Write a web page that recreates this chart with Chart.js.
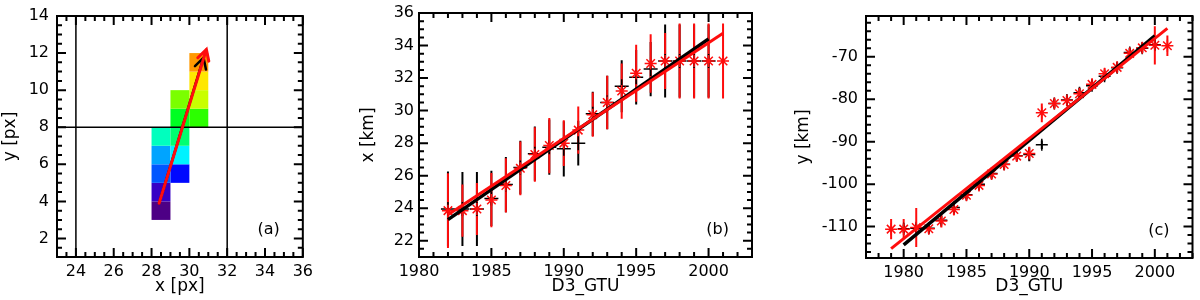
<!DOCTYPE html>
<html>
<head>
<meta charset="utf-8">
<script src="https://cdn.jsdelivr.net/npm/chart.js@4.4.1/dist/chart.umd.min.js"></script>
<style>
    body { margin: 0; background: #fff; }
    .panel { position: absolute; top: 0; }
</style>
</head>
<body>
<div class="panel" style="left:0px"><canvas id="chartA" width="320" height="300"></canvas></div>
<div class="panel" style="left:340px"><canvas id="chartB" width="430" height="300"></canvas></div>
<div class="panel" style="left:790px"><canvas id="chartC" width="410" height="300"></canvas></div>
<script>
// ---- panel (a): pixels hit by the track, in time order ----
const cellX = [28, 28, 29, 28, 28, 29, 28, 29, 29, 30, 29, 30, 30, 30];
const cellY = [3, 4, 5, 5, 6, 6, 7, 7, 8, 8, 9, 9, 10, 11];
const cellRank = [0, 1, 2, 3, 4, 5, 6, 7, 8, 9, 10, 11, 12, 13];
const redArrowX = [28.4, 30.9];
const redArrowY = [3.9, 12.2];
const blackArrowX = [28.4, 30.75];
const blackArrowY = [3.9, 11.75];
const aLinesX = [24, 32];
const aLinesY = [8];
const aXTicks = [24, 26, 28, 30, 32, 34, 36];
const aYTicks = [2, 4, 6, 8, 10, 12, 14];

// ---- panel (b): x [km] vs GTU ----
const bYearsRed = [1982, 1983, 1984, 1985, 1986, 1987, 1988, 1989, 1990, 1991, 1992, 1993, 1994, 1995, 1996, 1997, 1998, 1999, 2000, 2001];
const bRedX = [23.85, 23.85, 23.95, 24.5, 25.4, 26.45, 27.3, 27.85, 28.0, 28.8, 29.75, 30.5, 31.2, 32.3, 32.9, 33.05, 33.05, 33.05, 33.05, 33.05];
const bRedErr = [2.3, 1.6, 1.6, 1.67, 1.67, 1.65, 1.67, 1.7, 1.4, 1.45, 1.36, 1.64, 1.7, 1.75, 1.8, 1.72, 2.3, 2.3, 2.3, 2.3];
const bYearsBlack = [1982, 1983, 1984, 1985, 1986, 1987, 1988, 1989, 1990, 1991, 1992, 1993, 1994, 1995, 1996, 1997, 1998, 1999, 2000];
const bBlackX = [23.95, 23.95, 23.95, 24.6, 25.45, 26.5, 27.35, 27.75, 27.65, 28.0, 29.8, 30.5, 31.5, 32.05, 32.55, 33.05, 33.05, 33.05, 33.05];
const bBlackErr = [2.3, 2.27, 2.27, 1.7, 1.7, 1.65, 1.67, 1.7, 1.7, 1.38, 1.36, 1.64, 1.6, 1.67, 1.67, 2.25, 2.25, 2.25, 2.25];
const bFitBlackX = [1982, 2000];
const bFitBlackY = [23.3, 34.4];
const bFitRedX = [1982, 2001];
const bFitRedY = [23.6, 34.75];
const bXTicks = [1980, 1985, 1990, 1995, 2000];
const bYTicks = [22, 24, 26, 28, 30, 32, 34, 36];

// ---- panel (c): y [km] vs GTU ----
const cYearsRed = [1979, 1980, 1981, 1982, 1983, 1984, 1985, 1986, 1987, 1988, 1989, 1990, 1991, 1992, 1993, 1994, 1995, 1996, 1997, 1998, 1999, 2000, 2001];
const cRedY = [-110.6, -110.6, -110.2, -110.5, -108.7, -106.0, -102.6, -100.3, -97.6, -95.4, -93.4, -92.8, -83.2, -81.0, -80.3, -78.7, -76.5, -74.0, -72.5, -69.2, -67.9, -67.3, -67.4];
const cRedErr = [2.4, 2.4, 4.6, 1.2, 1.5, 1.3, 1.2, 1.2, 1.2, 1.2, 1.2, 1.6, 2.2, 1.2, 1.3, 1.3, 1.3, 1.3, 1.3, 1.3, 1.3, 4.5, 2.4];
const cYearsBlack = [1980, 1981, 1982, 1983, 1984, 1985, 1986, 1987, 1988, 1989, 1990, 1991, 1992, 1993, 1994, 1995, 1996, 1997, 1998, 1999, 2000];
const cBlackY = [-110.5, -110.4, -110.4, -108.5, -105.5, -102.5, -100.0, -97.5, -95.3, -93.3, -93.0, -90.7, -81.0, -80.2, -78.5, -76.8, -74.6, -72.6, -69.0, -68.0, -67.2];
const cBlackErr = [1.0, 1.0, 1.0, 1.0, 1.0, 1.0, 1.0, 1.0, 1.0, 1.0, 1.6, 1.0, 1.0, 1.0, 1.2, 1.0, 1.0, 1.0, 1.0, 1.0, 1.0];
const cFitBlackX = [1980, 2000];
const cFitBlackY = [-114.3, -65.1];
const cFitRedX = [1979, 2001];
const cFitRedY = [-115.2, -63.3];
const cXTicks = [1980, 1985, 1990, 1995, 2000];
const cYTicks = [-110, -100, -90, -80, -70];

const FONT = 'DejaVu Sans';
const RED = '#ff0d0d';
Chart.defaults.font.family = FONT;
Chart.defaults.color = '#000';

const pts = (xs, ys) => xs.map((v, i) => ({ x: v, y: ys[i] }));

// rainbow colour table (purple -> orange), t in [0, 1]
function rainbow(t) {
    const h = 275 - 239 * t;
    const v = Math.min(1, 0.52 + 3.3 * t);
    const f = n => {
        const k = (n + h / 60) % 6;
        return Math.round(255 * (v - v * Math.max(0, Math.min(k, 4 - k, 1))));
    };
    return `rgb(${f(5)}, ${f(3)}, ${f(1)})`;
}

function axis(min, max, ticks, title, size, pad, isX, titlePad) {
    return {
        type: 'linear',
        min: min,
        max: max,
        afterBuildTicks: s => { s.ticks = ticks.map(v => ({ value: v })); },
        afterFit: s => { if (isX) s.height = size; else s.width = size; },
        grid: { display: false, drawTicks: false },
        border: { display: false },
        ticks: {
            color: '#000',
            autoSkip: false,
            maxRotation: 0,
            padding: pad,
            font: { size: 16, lineHeight: 1 },
            callback: v => String(v)
        },
        title: {
            display: true,
            text: title,
            color: '#000',
            font: { size: 17 },
            padding: isX ? { top: 0, bottom: titlePad } : { top: titlePad, bottom: 0 }
        }
    };
}

// frame with inward major/minor ticks on all four sides, plus the panel tag
const frameTicks = {
    id: 'frameTicks',
    afterDatasetsDraw(chart, args, opts) {
        const { ctx, chartArea: { left, right, top, bottom }, scales: { x, y } } = chart;
        const isMajor = (s, v) => s.ticks.some(t => Math.abs(t.value - v) < 1e-6);
        ctx.save();
        ctx.strokeStyle = '#000';
        ctx.lineWidth = 2;
        ctx.beginPath();
        for (let i = Math.ceil(x.min / opts.xMinor); i * opts.xMinor <= x.max + 1e-9; i++) {
            const v = i * opts.xMinor;
            const p = x.getPixelForValue(v);
            const len = isMajor(x, v) ? 9 : 5;
            ctx.moveTo(p, bottom); ctx.lineTo(p, bottom - len);
            ctx.moveTo(p, top); ctx.lineTo(p, top + len);
        }
        for (let i = Math.ceil(y.min / opts.yMinor); i * opts.yMinor <= y.max + 1e-9; i++) {
            const v = i * opts.yMinor;
            const p = y.getPixelForValue(v);
            const len = isMajor(y, v) ? 9 : 5;
            ctx.moveTo(left, p); ctx.lineTo(left + len, p);
            ctx.moveTo(right, p); ctx.lineTo(right - len, p);
        }
        ctx.stroke();
        ctx.strokeRect(left, top, right - left, bottom - top);
        ctx.fillStyle = '#000';
        ctx.font = `16px "${FONT}"`;
        ctx.textAlign = 'right';
        ctx.textBaseline = 'middle';
        ctx.fillText(opts.tag, right - 23, bottom - 27);
        ctx.restore();
    }
};

// vertical error bars, drawn under the markers
const errorBars = {
    id: 'errorBars',
    beforeDatasetsDraw(chart, args, opts) {
        const { ctx, chartArea: { left, right, top, bottom }, scales: { x, y } } = chart;
        ctx.save();
        ctx.beginPath();
        ctx.rect(left, top, right - left, bottom - top);
        ctx.clip();
        ctx.lineWidth = 2;
        opts.sets.forEach(set => {
            ctx.strokeStyle = set.color;
            ctx.beginPath();
            set.x.forEach((xv, i) => {
                const px = x.getPixelForValue(xv);
                ctx.moveTo(px, y.getPixelForValue(set.y[i] - set.err[i]));
                ctx.lineTo(px, y.getPixelForValue(set.y[i] + set.err[i]));
            });
            ctx.stroke();
        });
        ctx.restore();
    }
};

// panel (a): coloured pixels, reference lines and direction arrows
const trackPlot = {
    id: 'trackPlot',
    beforeDatasetsDraw(chart) {
        const { ctx, chartArea: { left, right, top, bottom }, scales: { x, y } } = chart;
        ctx.save();
        cellX.forEach((cx, i) => {
            const x0 = x.getPixelForValue(cx), x1 = x.getPixelForValue(cx + 1);
            const y0 = y.getPixelForValue(cellY[i] + 1), y1 = y.getPixelForValue(cellY[i]);
            ctx.fillStyle = rainbow(cellRank[i] / (cellRank.length - 1));
            ctx.fillRect(x0, y0, x1 - x0, y1 - y0);
        });
        ctx.strokeStyle = '#000';
        ctx.lineWidth = 1.5;
        ctx.beginPath();
        aLinesX.forEach(v => { const p = x.getPixelForValue(v); ctx.moveTo(p, top); ctx.lineTo(p, bottom); });
        aLinesY.forEach(v => { const p = y.getPixelForValue(v); ctx.moveTo(left, p); ctx.lineTo(right, p); });
        ctx.stroke();

        const arrow = (xs, ys, color, width) => {
            const ax = x.getPixelForValue(xs[0]), ay = y.getPixelForValue(ys[0]);
            const bx = x.getPixelForValue(xs[1]), by = y.getPixelForValue(ys[1]);
            const ang = Math.atan2(by - ay, bx - ax);
            const head = 12, spread = 0.5;
            ctx.strokeStyle = color;
            ctx.lineWidth = width;
            ctx.lineCap = 'round';
            ctx.beginPath();
            ctx.moveTo(ax, ay); ctx.lineTo(bx, by);
            ctx.moveTo(bx - head * Math.cos(ang - spread), by - head * Math.sin(ang - spread));
            ctx.lineTo(bx, by);
            ctx.lineTo(bx - head * Math.cos(ang + spread), by - head * Math.sin(ang + spread));
            ctx.stroke();
        };
        arrow(blackArrowX, blackArrowY, '#000', 2.5);
        arrow(redArrowX, redArrowY, RED, 3);
        ctx.restore();
    }
};

function fitLine(xs, ys, color, width) {
    return { data: pts(xs, ys), showLine: true, borderColor: color, borderWidth: width, pointRadius: 0, fill: false };
}

function markers(xs, ys, color, style, radius) {
    return { data: pts(xs, ys), showLine: false, pointStyle: style, pointRadius: radius, pointBorderColor: color, pointBorderWidth: 1.5, pointBackgroundColor: color };
}

function baseOptions(padding, xAxis, yAxis, pluginOpts) {
    return {
        responsive: false,
        animation: false,
        layout: { padding: padding },
        plugins: Object.assign({ legend: { display: false }, tooltip: { enabled: false } }, pluginOpts),
        scales: { x: xAxis, y: yAxis }
    };
}

new Chart(document.getElementById('chartA'), {
    type: 'scatter',
    data: { datasets: [] },
    options: baseOptions(
        { top: 8, right: 15, left: 0, bottom: 0 },
        axis(23, 36, aXTicks, 'x [px]', 43, 7, true, 3),
        axis(1, 14, aYTicks, 'y [px]', 57, 8, false, 0),
        { frameTicks: { xMinor: 0.5, yMinor: 0.5, tag: '(a)' } }
    ),
    plugins: [trackPlot, frameTicks]
});

new Chart(document.getElementById('chartB'), {
    type: 'scatter',
    data: {
        datasets: [
            fitLine(bFitRedX, bFitRedY, RED, 3),
            fitLine(bFitBlackX, bFitBlackY, '#000', 3.5),
            markers(bYearsRed, bRedX, RED, 'star', 6),
            markers(bYearsBlack, bBlackX, '#000', 'cross', 7)
        ]
    },
    options: baseOptions(
        { top: 8, right: 18, left: 0, bottom: 0 },
        axis(1980, 2003, bXTicks, 'D3_GTU', 43, 7, true, 3),
        axis(21, 36, bYTicks, 'x [km]', 79, 5, false, 18),
        {
            frameTicks: { xMinor: 1, yMinor: 0.5, tag: '(b)' },
            errorBars: { sets: [
                { x: bYearsBlack, y: bBlackX, err: bBlackErr, color: '#000' },
                { x: bYearsRed, y: bRedX, err: bRedErr, color: RED }
            ] }
        }
    ),
    plugins: [errorBars, frameTicks]
});

new Chart(document.getElementById('chartC'), {
    type: 'scatter',
    data: {
        datasets: [
            fitLine(cFitRedX, cFitRedY, RED, 3),
            fitLine(cFitBlackX, cFitBlackY, '#000', 3.5),
            markers(cYearsRed, cRedY, RED, 'star', 6),
            markers(cYearsBlack, cBlackY, '#000', 'cross', 6)
        ]
    },
    options: baseOptions(
        { top: 9, right: 3, left: 0, bottom: 0 },
        axis(1977, 2003, cXTicks, 'D3_GTU', 42, 7, true, 3),
        axis(-117.4, -60.4, cYTicks, 'y [km]', 76, 8, false, 3),
        {
            frameTicks: { xMinor: 1, yMinor: 2, tag: '(c)' },
            errorBars: { sets: [
                { x: cYearsBlack, y: cBlackY, err: cBlackErr, color: '#000' },
                { x: cYearsRed, y: cRedY, err: cRedErr, color: RED }
            ] }
        }
    ),
    plugins: [errorBars, frameTicks]
});
</script>
</body>
</html>
